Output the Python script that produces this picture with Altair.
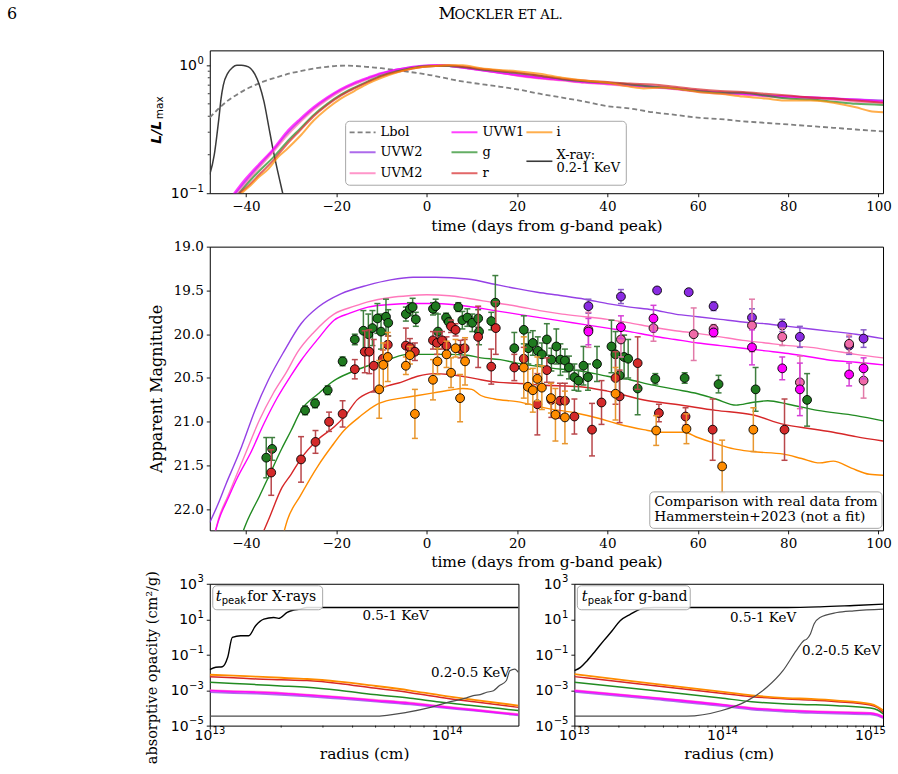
import altair as alt
import pandas as pd

SERIF = "DejaVu Serif"
SANS = "DejaVu Sans"

# ------------------------------------------------------------------
# Top panel: light curves normalised to their own maximum
# ------------------------------------------------------------------
lbol_day = [-48, -46, -44, -42, -40, -38, -36, -34, -32, -30, -28, -26, -24, -22, -20,
            -18, -16, -14, -12, -10, -8, -6, -4, -2, 0, 3, 6, 10, 15, 20, 25, 30, 35,
            40, 45, 50, 55, 60, 65, 70, 75, 80, 85, 90, 95, 101]
lbol_lum = [0.39, 0.46, 0.53, 0.59, 0.65, 0.70, 0.75, 0.79, 0.83, 0.87, 0.90, 0.93, 0.955,
            0.975, 0.99, 0.995, 0.99, 0.98, 0.965, 0.95, 0.93, 0.91, 0.89, 0.87, 0.85, 0.81,
            0.77, 0.73, 0.69, 0.65, 0.60, 0.56, 0.52, 0.48, 0.46, 0.43, 0.41, 0.39, 0.38,
            0.365, 0.355, 0.345, 0.335, 0.325, 0.315, 0.305]

xray_day = [-48, -47, -46.5, -46, -45.5, -45, -44, -43, -42, -41, -40, -39, -38, -37,
            -36, -35, -34, -33, -32, -31]
xray_lum = [0.14, 0.2, 0.27, 0.38, 0.55, 0.7, 0.87, 0.96, 1.0, 1.0, 0.99, 0.95, 0.85, 0.7,
            0.52, 0.34, 0.22, 0.15, 0.105, 0.075]

top_uv_day = [-43.5, -40, -37, -34, -31, -28, -25, -22, -19, -16, -13, -10, -7, -4, -1, 2,
              5, 8, 12, 16, 20, 25, 30, 35, 40, 45, 50, 55, 60, 65, 70, 75, 80, 85, 90, 95, 101]
top_uvw1 = [0.09, 0.13, 0.17, 0.22, 0.30, 0.38, 0.47, 0.56, 0.65, 0.73, 0.80, 0.87, 0.92,
            0.96, 0.99, 1.0, 0.99, 0.96, 0.92, 0.88, 0.84, 0.80, 0.77, 0.74, 0.72, 0.70,
            0.68, 0.66, 0.63, 0.61, 0.60, 0.58, 0.57, 0.56, 0.55, 0.54, 0.52]
top_uvw2 = [0.088, 0.125, 0.165, 0.215, 0.29, 0.37, 0.46, 0.55, 0.64, 0.72, 0.79, 0.86, 0.92,
            0.96, 0.99, 1.0, 0.99, 0.96, 0.92, 0.88, 0.84, 0.80, 0.77, 0.74, 0.72, 0.70,
            0.68, 0.66, 0.63, 0.61, 0.60, 0.58, 0.57, 0.56, 0.55, 0.54, 0.53]
top_uvm2 = [0.085, 0.12, 0.16, 0.21, 0.28, 0.36, 0.45, 0.54, 0.63, 0.71, 0.78, 0.85, 0.91,
            0.95, 0.98, 1.0, 0.99, 0.96, 0.92, 0.88, 0.83, 0.79, 0.76, 0.73, 0.71, 0.69,
            0.67, 0.65, 0.62, 0.60, 0.59, 0.57, 0.56, 0.55, 0.54, 0.52, 0.51]

top_g_day = [-42, -40, -37, -34, -31, -28, -25, -22, -19, -16, -13, -10, -7, -4, -1, 2,
             5, 8, 12, 16, 20, 25, 30, 35, 40, 45, 50, 55, 60, 65, 70, 75, 80, 85, 90, 95, 101]
top_g = [0.095, 0.115, 0.15, 0.19, 0.25, 0.32, 0.41, 0.50, 0.59, 0.67, 0.75, 0.83, 0.89,
         0.94, 0.98, 0.99, 0.99, 0.97, 0.93, 0.90, 0.87, 0.83, 0.78, 0.75, 0.73, 0.71,
         0.68, 0.66, 0.63, 0.61, 0.61, 0.58, 0.55, 0.54, 0.52, 0.50, 0.49]

top_r_day = [-41.5, -40, -37, -34, -31, -28, -25, -22, -19, -16, -13, -10, -7, -4, -1, 2,
             5, 8, 12, 16, 20, 25, 30, 35, 40, 45, 50, 55, 60, 65, 70, 75, 80, 85, 90, 95, 101]
top_r = [0.1, 0.11, 0.14, 0.18, 0.24, 0.31, 0.40, 0.49, 0.58, 0.66, 0.74, 0.82, 0.88, 0.93,
         0.97, 0.99, 1.0, 0.98, 0.94, 0.91, 0.88, 0.83, 0.79, 0.76, 0.74, 0.72, 0.71, 0.68,
         0.65, 0.63, 0.62, 0.60, 0.58, 0.56, 0.55, 0.53, 0.51]

top_i_day = [-41, -39, -37, -35, -33, -31, -28, -25, -22, -19, -16, -13, -10, -7, -4, -1,
             2, 5, 8, 12, 16, 20, 25, 30, 35, 40, 45, 48, 52, 56, 60, 65, 70, 75, 80, 85,
             90, 95, 98, 101]
top_i = [0.1, 0.115, 0.135, 0.155, 0.19, 0.22, 0.28, 0.37, 0.46, 0.55, 0.63, 0.72, 0.80,
         0.87, 0.93, 0.97, 0.99, 1.0, 1.0, 0.95, 0.92, 0.90, 0.86, 0.80, 0.76, 0.73, 0.68,
         0.66, 0.67, 0.65, 0.62, 0.60, 0.57, 0.55, 0.53, 0.53, 0.51, 0.47, 0.44, 0.43]

top_major = [0.1, 1.0]
top_major_exp = ["−1", "0"]
top_minor = [0.2, 0.3, 0.4, 0.5, 0.6, 0.7, 0.8, 0.9]

# ------------------------------------------------------------------
# Middle panel: model magnitudes and observed photometry
# ------------------------------------------------------------------
mod_uvw2_day = [-48, -46, -44.4, -42.5, -41, -38, -35, -31.5, -27.8, -24, -19, -13, -8, -3,
                2, 9, 16, 20, 24.5, 30, 35, 40, 45, 50, 55, 60, 65, 70, 75, 80, 85, 90, 95, 101]
mod_uvw2 = [22.15, 21.92, 21.71, 21.48, 21.29, 20.87, 20.52, 20.19, 19.88, 19.69, 19.54,
            19.44, 19.38, 19.35, 19.35, 19.37, 19.44, 19.48, 19.52, 19.56, 19.6, 19.65,
            19.69, 19.72, 19.77, 19.8, 19.83, 19.86, 19.88, 19.91, 19.94, 19.97, 20.0, 20.05]

mod_uvm2_day = [-47, -46, -44, -42, -40, -37, -34, -31, -28.5, -25, -20.5, -16, -13, -8, -4,
                0, 5, 9, 15, 20, 25, 30, 35, 40, 45, 50, 55, 60, 65, 70, 75, 80, 85, 90, 95, 101]
mod_uvm2 = [22.3, 22.1, 21.85, 21.6, 21.35, 20.98, 20.68, 20.43, 20.2, 19.98, 19.77, 19.68,
            19.63, 19.58, 19.56, 19.55, 19.56, 19.59, 19.64, 19.68, 19.73, 19.77, 19.8,
            19.83, 19.87, 19.92, 19.96, 19.99, 20.03, 20.07, 20.1, 20.13, 20.15, 20.19,
            20.23, 20.27]

mod_uvw1_day = [-47, -46, -44, -42, -39, -36, -33, -30, -27.8, -24, -20.5, -17, -13, -8, -3,
                2, 9, 15, 20, 25, 30, 35, 40, 45, 50, 55, 60, 65, 70, 75, 80, 85, 90, 95, 101]
mod_uvw1 = [22.3, 22.12, 21.88, 21.65, 21.36, 21.02, 20.72, 20.47, 20.3, 20.05, 19.84, 19.76,
            19.69, 19.66, 19.65, 19.65, 19.68, 19.73, 19.77, 19.81, 19.85, 19.89, 19.93,
            19.97, 20.02, 20.06, 20.1, 20.13, 20.16, 20.19, 20.22, 20.26, 20.3, 20.32, 20.35]

mod_g_day = [-41, -39.6, -37, -35, -32, -30, -27.8, -24, -20.5, -17, -13, -8, -4.3, 0, 5, 9,
             12, 16.3, 20, 25, 30, 34, 40, 45, 49, 55, 60, 64, 68.5, 72, 75.5, 80, 86.5, 95, 101]
mod_g = [22.3, 22.12, 21.85, 21.63, 21.3, 21.1, 20.87, 20.68, 20.53, 20.44, 20.36, 20.28,
         20.23, 20.23, 20.23, 20.24, 20.27, 20.29, 20.33, 20.37, 20.4, 20.42, 20.48, 20.52,
         20.57, 20.63, 20.68, 20.74, 20.81, 20.78, 20.76, 20.8, 20.87, 20.93, 20.99]

mod_r_day = [-36.5, -35, -32, -30, -27.8, -24, -20.5, -18, -15.4, -12, -8, -5.7, -2, 1.5, 5,
             9, 12, 16, 20, 25, 34, 40, 49, 55, 64, 72, 79, 85, 90, 95, 101]
mod_r = [22.3, 22.12, 21.75, 21.6, 21.42, 21.2, 21.06, 20.93, 20.75, 20.65, 20.58, 20.55,
         20.48, 20.45, 20.46, 20.49, 20.52, 20.55, 20.56, 20.58, 20.6, 20.65, 20.76, 20.8,
         20.87, 20.92, 21.03, 21.08, 21.12, 21.17, 21.22]

mod_i_day = [-31.8, -30.8, -28, -24, -21, -18.3, -15, -11, -8, -5.7, -2, 1.5, 5, 8, 10, 12,
             15, 20, 27, 33, 38, 42, 48, 52, 57, 60, 64, 68, 72, 79, 83, 87, 90, 94, 98, 101]
mod_i = [22.3, 22.12, 21.85, 21.5, 21.28, 21.1, 20.95, 20.8, 20.75, 20.73, 20.7, 20.67,
         20.64, 20.62, 20.63, 20.7, 20.74, 20.77, 20.85, 20.9, 20.96, 21.02, 21.09, 21.12,
         21.12, 21.18, 21.25, 21.31, 21.34, 21.37, 21.42, 21.47, 21.45, 21.53, 21.6, 21.61]

obs_g_day = [-35.5, -34.2, -26.9, -24.7, -21.9, -18.6, -15.9, -14.0, -12.9, -12.0, -10.9,
             -10.1, -9.0, -8.5, -4.6, -3.7, -3.1, -2.4, 1.4, 2.0, 2.5, 4.3, 4.9, 7.0, 7.9,
             9.0, 10.1, 11.4, 11.6, 14.3, 15.2, 19.4, 21.5, 22.5, 23.5, 24.6, 25.5, 26.6,
             27.6, 28.7, 29.6, 30.6, 31.5, 32.7, 33.6, 34.7, 35.7, 37.7, 40.9, 41.8, 42.7,
             43.7, 44.6, 46.7, 50.6, 57.1, 64.6, 72.8, 84.2]
obs_g_mag = [21.41, 21.31, 20.87, 20.79, 20.64, 20.31, 20.06, 19.96, 20.0, 19.93, 19.82,
             19.97, 19.8, 19.87, 19.77, 19.71, 19.69, 19.83, 19.71, 19.68, 19.97, 19.81,
             19.86, 19.69, 19.84, 19.81, 19.87, 19.82, 19.97, 19.85, 19.64, 20.16, 19.95,
             20.16, 20.1, 20.19, 20.23, 20.06, 20.29, 20.14, 20.29, 20.3, 20.38, 20.49,
             20.53, 20.36, 20.49, 20.34, 20.14, 20.23, 20.47, 20.26, 20.28, 20.62, 20.51,
             20.5, 20.57, 20.63, 20.75]
obs_g_err = [0.23, 0.13, 0.05, 0.05, 0.05, 0.05, 0.06, 0.23, 0.23, 0.2, 0.17, 0.2, 0.2,
             0.15, 0.08, 0.07, 0.1, 0.08, 0.07, 0.08, 0.2, 0.05, 0.05, 0.05, 0.1, 0.1, 0.1,
             0.1, 0.15, 0.1, 0.31, 0.18, 0.16, 0.18, 0.14, 0.16, 0.13, 0.18, 0.13, 0.2,
             0.18, 0.13, 0.13, 0.15, 0.12, 0.22, 0.15, 0.2, 0.3, 0.26, 0.25, 0.25, 0.22,
             0.3, 0.06, 0.06, 0.1, 0.25, 0.3]

obs_r_day = [-34.4, -27.8, -24.6, -21.6, -18.6, -15.9, -13.7, -12.7, -11.7, -9.7, -8.6,
             -4.6, -3.7, -2.6, 1.4, 2.3, 3.4, 4.4, 5.4, 6.4, 7.5, 8.4, 11.4, 14.3, 15.3,
             19.4, 21.5, 24.5, 26.6, 27.6, 29.5, 30.6, 32.7, 36.6, 38.7, 41.8, 42.7, 46.7,
             51.4, 57.3, 63.3, 79.2]
obs_r_mag = [21.58, 21.43, 21.23, 21.0, 20.91, 20.4, 20.2, 20.2, 20.36, 20.28, 20.12, 20.13,
             20.15, 20.2, 20.07, 20.1, 20.07, 20.13, 19.91, 19.95, 20.17, 20.16, 20.03,
             20.37, 19.93, 20.38, 20.28, 20.8, 20.41, 20.75, 20.76, 20.76, 20.94, 21.09,
             20.78, 20.5, 20.71, 20.33, 20.9, 20.94, 21.09, 21.09]
obs_r_err = [0.26, 0.26, 0.13, 0.11, 0.15, 0.11, 0.24, 0.25, 0.3, 0.1, 0.1, 0.2, 0.1, 0.1,
             0.1, 0.13, 0.1, 0.1, 0.07, 0.07, 0.1, 0.1, 0.35, 0.2, 0.3, 0.15, 0.13, 0.35,
             0.14, 0.2, 0.2, 0.2, 0.2, 0.3, 0.25, 0.3, 0.3, 0.3, 0.1, 0.1, 0.35, 0.35]

obs_i_day = [-10.5, -9.6, -8.6, -4.6, -3.7, -2.6, 1.4, 2.4, 4.4, 5.4, 6.4, 7.4, 8.5, 21.5,
             22.4, 23.5, 24.5, 25.5, 27.5, 28.5, 30.6, 41.8, 50.8, 57.5, 65.4, 72.3]
obs_i_mag = [20.63, 20.35, 20.26, 20.36, 20.24, 20.91, 20.52, 20.31, 20.23, 20.44, 20.16,
             20.73, 20.31, 20.38, 20.6, 20.64, 20.51, 20.61, 20.73, 20.92, 20.95, 20.68,
             21.1, 21.08, 21.51, 21.09]
obs_i_err = [0.33, 0.25, 0.28, 0.1, 0.1, 0.28, 0.23, 0.15, 0.15, 0.17, 0.1, 0.27, 0.27,
             0.35, 0.2, 0.25, 0.25, 0.25, 0.17, 0.3, 0.3, 0.3, 0.17, 0.17, 0.3, 0.25]

obs_uvw2_day = [35.8, 43.0, 51.0, 58.0, 63.5, 72.0, 78.7, 82.6, 93.5, 96.7]
obs_uvw2_mag = [19.68, 19.57, 19.5, 19.52, 19.68, 19.81, 19.9, 20.03, 20.13, 20.05]
obs_uvw2_err = [0.08, 0.08, 0.03, 0.02, 0.05, 0.1, 0.07, 0.12, 0.1, 0.1]

obs_uvm2_day = [35.8, 43.0, 50.2, 59.1, 63.5, 72.0, 78.7, 82.6, 93.5, 96.7]
obs_uvm2_mag = [19.95, 20.06, 19.93, 20.0, 19.94, 19.9, 20.03, 20.55, 20.11, 20.53]
obs_uvm2_err = [0.2, 0.2, 0.15, 0.3, 0.05, 0.3, 0.1, 0.3, 0.1, 0.2]

obs_uvw1_day = [35.8, 43.0, 50.2, 63.5, 72.0, 78.7, 82.6, 93.5, 96.7]
obs_uvw1_mag = [19.97, 19.92, 19.82, 19.98, 20.15, 20.39, 20.63, 20.46, 20.39]
obs_uvw1_err = [0.15, 0.13, 0.15, 0.05, 0.2, 0.13, 0.3, 0.13, 0.12]

# ------------------------------------------------------------------
# Bottom panels: absorptive opacity against radius
# ------------------------------------------------------------------
xr_radius = [1.0e13, 1.26e13, 1.58e13, 2.0e13, 2.57e13, 3.5e13, 4.9e13, 7.0e13, 9.3e13,
             1.3e14, 2.0e14]
xr_kap_i = [7.41e-3, 6.61e-3, 5.75e-3, 5.01e-3, 4.27e-3, 3.02e-3, 1.78e-3, 9.55e-4, 5.25e-4,
            2.82e-4, 1.35e-4]
xr_kap_r = [5.75e-3, 5.01e-3, 4.27e-3, 3.89e-3, 3.47e-3, 2.40e-3, 1.32e-3, 7.24e-4, 3.98e-4,
            2.19e-4, 1.07e-4]
xr_kap_g = [2.75e-3, 2.40e-3, 2.04e-3, 1.74e-3, 1.45e-3, 9.77e-4, 5.62e-4, 3.47e-4, 2.14e-4,
            1.32e-4, 7.08e-5]
xr_kap_uvw1 = [9.33e-4, 8.32e-4, 7.59e-4, 6.61e-4, 5.25e-4, 3.89e-4, 2.69e-4, 1.82e-4,
               1.20e-4, 7.59e-5, 4.17e-5]
xr_kap_uvm2 = [1.0e-3, 8.91e-4, 8.13e-4, 7.08e-4, 5.62e-4, 4.17e-4, 2.88e-4, 1.95e-4,
               1.29e-4, 8.13e-5, 4.47e-5]
xr_kap_uvw2 = [7.76e-4, 6.92e-4, 6.31e-4, 5.50e-4, 4.47e-4, 3.31e-4, 2.34e-4, 1.58e-4,
               1.07e-4, 6.92e-5, 3.80e-5]
xr_hard_radius = [1.0e13, 1.06e13, 1.13e13, 1.19e13, 1.245e13, 1.35e13, 1.46e13, 1.56e13,
                  1.69e13, 1.86e13, 1.95e13, 2.12e13, 2.26e13, 2.4e13, 2.57e13, 2.0e14]
xr_hard_kap = [1.43e-2, 1.95e-2, 2.1e-2, 7.1e-2, 0.95, 1.17, 1.17, 4.3, 10.2, 12.6, 11.2,
               24, 33, 37, 46, 46]
xr_soft_radius = [1.0e13, 4.9e13, 6.76e13, 8.51e13, 9.98e13, 1.21e14, 1.29e14, 1.38e14,
                  1.47e14, 1.57e14, 1.66e14, 1.78e14, 1.84e14, 1.93e14, 2.0e14]
xr_soft_kap = [3.4e-5, 3.4e-5, 5.6e-5, 1.07e-4, 2.0e-4, 3.7e-4, 4.9e-4, 5.6e-4, 7.6e-4,
               9.3e-4, 1.78e-3, 3.5e-3, 1.26e-2, 1.55e-2, 1.0e-2]

gb_radius = [1.0e13, 3.16e13, 9.77e13, 1.58e14, 2.75e14, 3.98e14, 5.96e14, 1.0e15, 1.12e15,
             1.23e15]
gb_kap_i = [8.1e-3, 2.5e-3, 8.2e-4, 5.1e-4, 3.6e-4, 3.2e-4, 2.6e-4, 1.66e-4, 1.17e-4, 7.0e-5]
gb_kap_r = [5.8e-3, 1.95e-3, 6.6e-4, 4.3e-4, 3.2e-4, 2.8e-4, 2.25e-4, 1.46e-4, 1.03e-4, 5.6e-5]
gb_kap_g = [2.76e-3, 1.02e-3, 3.6e-4, 2.25e-4, 1.66e-4, 1.52e-4, 1.34e-4, 9.9e-5, 7.6e-5,
            4.5e-5]
gb_kap_uvw1 = [9.4e-4, 3.9e-4, 1.52e-4, 9.5e-5, 7.0e-5, 6.1e-5, 5.6e-5, 5.0e-5, 4.2e-5, 3.0e-5]
gb_kap_uvm2 = [1.0e-3, 4.1e-4, 1.6e-4, 1.0e-4, 7.4e-5, 6.5e-5, 5.9e-5, 5.3e-5, 4.5e-5, 3.2e-5]
gb_kap_uvw2 = [8.0e-4, 3.3e-4, 1.3e-4, 8.1e-5, 6.0e-5, 5.2e-5, 4.8e-5, 4.3e-5, 3.6e-5, 2.6e-5]
gb_hard_radius = [1.0e13, 1.1e13, 1.22e13, 1.39e13, 1.58e13, 1.8e13, 2.04e13, 2.4e13,
                  2.79e13, 2.95e13, 3.47e13, 2.75e14, 4.57e14, 7.76e14, 1.23e15]
gb_hard_kap = [1.26e-2, 1.94e-2, 4.6e-2, 0.168, 0.62, 2.25, 8.3, 19.5, 37.4, 42.7, 45.7,
               45.7, 50, 60, 71]
gb_soft_radius = [1.0e13, 5.75e13, 9.8e13, 1.48e14, 2.0e14, 2.57e14, 3.16e14, 3.55e14,
                  3.72e14, 3.94e14, 4.17e14, 4.57e14, 5.96e14, 7.76e14, 1.23e15]
gb_soft_kap = [3.4e-5, 3.4e-5, 6.9e-5, 2.57e-4, 1.45e-3, 1.26e-2, 0.17, 0.62, 0.76, 1.48,
               5.4, 12.6, 24, 30, 37]

kap_major = [1e-5, 1e-3, 1e-1, 10, 1000]
kap_major_exp = ["−5", "−3", "−1", "1", "3"]
radius_major_left = [1e13, 1e14]
radius_major_right = [1e13, 1e14, 1e15]
radius_major_exp = {1e13: "13", 1e14: "14", 1e15: "15"}
minor_radius_left = [2e13, 3e13, 4e13, 5e13, 6e13, 7e13, 8e13, 9e13]
minor_radius_right = [2e13, 3e13, 4e13, 5e13, 6e13, 7e13, 8e13, 9e13,
                      2e14, 3e14, 4e14, 5e14, 6e14, 7e14, 8e14, 9e14]

# band colours
LINE = {"UVW2": "#8a2be2", "UVM2": "#ff69b4", "UVW1": "#ff00ff",
        "g": "#228b22", "r": "#d62728", "i": "#ff8c00"}
FACE = {"UVW2": "#8a2be2", "UVM2": "#f06aa8", "UVW1": "#ff00ff",
        "g": "#1f7a1f", "r": "#d42a2a", "i": "#ff8c00"}
EBAR = {"UVW2": "#8a5cc8", "UVM2": "#e27aa8", "UVW1": "#d63fd6",
        "g": "#3f7f3f", "r": "#b9474b", "i": "#e8962e"}

ONE = pd.DataFrame({"k": [0]})

# label metrics (DejaVu Sans): "10" at 14 px, exponent digits/minus at 10 px
BASE_PX, EXP_PX = 14, 10
DIGIT_W, MINUS_W = 0.636 * EXP_PX, 0.838 * EXP_PX
BASE_W = 2 * 0.636 * BASE_PX


def exp_width(e):
    return sum(MINUS_W if ch == "−" else DIGIT_W for ch in e)


def line(xv, yv, xs, ys, xaxis, yaxis, color, width, opacity=1.0, dash=None,
         interp="monotone"):
    mk = dict(color=color, strokeWidth=width, opacity=opacity, clip=True, interpolate=interp)
    if dash is not None:
        mk["strokeDash"] = dash
    return alt.Chart(pd.DataFrame({"x": xv, "y": yv})).mark_line(**mk).encode(
        x=alt.X("x:Q", scale=xs, axis=xaxis),
        y=alt.Y("y:Q", scale=ys, axis=yaxis),
    )


def text(s, x, y, size=13, font=SERIF, align="left", baseline="middle", angle=None,
         style="normal", weight="normal"):
    mk = dict(text=s, fontSize=size, font=font, align=align, baseline=baseline,
              fontStyle=style, fontWeight=weight, color="black")
    if angle is not None:
        mk["angle"] = angle
    return alt.Chart(ONE).mark_text(**mk).encode(x=alt.value(x), y=alt.value(y))


def seg(x1, x2, y, color, width, opacity=1.0, dash=None):
    mk = dict(color=color, strokeWidth=width, opacity=opacity)
    if dash is not None:
        mk["strokeDash"] = dash
    return alt.Chart(ONE).mark_rule(**mk).encode(
        x=alt.value(x1), x2=alt.value(x2), y=alt.value(y))


def box(x1, x2, y1, y2):
    return alt.Chart(ONE).mark_rect(
        fill="white", fillOpacity=0.85, stroke="#a8a8a8", strokeWidth=1, cornerRadius=4
    ).encode(x=alt.value(x1), x2=alt.value(x2), y=alt.value(y1), y2=alt.value(y2))


def yminor(vals, ys, yaxis):
    return alt.Chart(pd.DataFrame({"v": vals})).mark_rule(color="black", strokeWidth=0.8).encode(
        y=alt.Y("v:Q", scale=ys, axis=yaxis), x=alt.value(0), x2=alt.value(-2))


def xminor(vals, xs, xaxis, h):
    return alt.Chart(pd.DataFrame({"v": vals})).mark_rule(color="black", strokeWidth=0.8).encode(
        x=alt.X("v:Q", scale=xs, axis=xaxis), y=alt.value(h), y2=alt.value(h + 2))


def ylog_labels(vals, exps, ys, yaxis):
    """Power-of-ten labels on a left axis: '10' followed by a raised exponent."""
    out = []
    for v, e in zip(vals, exps):
        d = pd.DataFrame({"v": [v], "e": [e]})
        Y = alt.Y("v:Q", scale=ys, axis=yaxis)
        out.append(alt.Chart(d).mark_text(
            text="10", font=SANS, fontSize=BASE_PX, align="right", baseline="middle",
            dx=-(6.5 + exp_width(e)), dy=1, color="black").encode(x=alt.value(0), y=Y))
        out.append(alt.Chart(d).mark_text(
            font=SANS, fontSize=EXP_PX, align="right", baseline="middle", dx=-6, dy=-4.5,
            color="black").encode(x=alt.value(0), y=Y, text="e:N"))
    return out


def xlog_labels(vals, exps, xs, xaxis, h):
    """Power-of-ten labels centred under bottom-axis ticks."""
    out = []
    for v, e in zip(vals, exps):
        d = pd.DataFrame({"v": [v], "e": [e]})
        X = alt.X("v:Q", scale=xs, axis=xaxis)
        shift = (BASE_W + exp_width(e)) / 2 - exp_width(e)
        out.append(alt.Chart(d).mark_text(
            text="10", font=SANS, fontSize=BASE_PX, align="right", baseline="top",
            dx=shift, color="black").encode(x=X, y=alt.value(h + 3)))
        out.append(alt.Chart(d).mark_text(
            font=SANS, fontSize=EXP_PX, align="left", baseline="top", dx=shift + 0.3,
            color="black").encode(x=X, y=alt.value(h), text="e:N"))
    return out


def photometry(day, mag, err, band, xs, ys, xaxis, yaxis):
    d = pd.DataFrame({"day": day, "mag": mag,
                      "lo": [m - e for m, e in zip(mag, err)],
                      "hi": [m + e for m, e in zip(mag, err)]})
    base = alt.Chart(d)
    X = alt.X("day:Q", scale=xs, axis=xaxis)
    bar = base.mark_rule(color=EBAR[band], strokeWidth=1.5).encode(
        x=X, y=alt.Y("lo:Q", scale=ys, axis=yaxis), y2=alt.Y2("hi"))
    caps = [base.mark_rule(color=EBAR[band], strokeWidth=1.5, xOffset=-3, x2Offset=3).encode(
        x=X, x2=alt.X2("day"), y=alt.Y(f"{f}:Q", scale=ys, axis=yaxis)) for f in ("lo", "hi")]
    dots = base.mark_point(shape="circle", filled=True, fill=FACE[band], stroke="black",
                           strokeWidth=0.9, size=78, opacity=1).encode(
        x=X, y=alt.Y("mag:Q", scale=ys, axis=yaxis))
    return [bar] + caps + [dots]


# ------------------------------------------------------------------
# top panel
# ------------------------------------------------------------------
t_xs = alt.Scale(domain=[-48, 101], nice=False, zero=False)
t_ys = alt.Scale(type="log", domain=[0.1, 1.31], nice=False)
day_ticks = [-40, -20, 0, 20, 40, 60, 80, 100]
t_xa = alt.Axis(values=day_ticks, format="d", title="time (days from g-band peak)",
                titlePadding=5)
t_ya = alt.Axis(values=top_major, labels=False, title=None)

top_layers = [
    line(lbol_day, lbol_lum, t_xs, t_ys, t_xa, t_ya, "#808080", 1.8, dash=[5, 3]),
    line(xray_day, xray_lum, t_xs, t_ys, t_xa, t_ya, "#3a3a3a", 1.5),
    line(top_uv_day, top_uvw2, t_xs, t_ys, t_xa, t_ya, LINE["UVW2"], 2.0, opacity=0.7),
    line(top_uv_day, top_uvm2, t_xs, t_ys, t_xa, t_ya, LINE["UVM2"], 2.0, opacity=0.7),
    line(top_uv_day, top_uvw1, t_xs, t_ys, t_xa, t_ya, LINE["UVW1"], 2.4, opacity=0.75),
    line(top_g_day, top_g, t_xs, t_ys, t_xa, t_ya, LINE["g"], 2.0, opacity=0.7),
    line(top_r_day, top_r, t_xs, t_ys, t_xa, t_ya, LINE["r"], 2.0, opacity=0.7),
    line(top_i_day, top_i, t_xs, t_ys, t_xa, t_ya, LINE["i"], 2.0, opacity=0.7),
    yminor(top_minor, t_ys, t_ya),
]
top_layers += ylog_labels(top_major, top_major_exp, t_ys, t_ya)
top_layers += [
    # legend
    box(136, 417, 71, 135),
    seg(140, 166, 82, "#808080", 1.8, dash=[5, 3]),
    text("Lbol", 171, 82),
    seg(140, 166, 102, LINE["UVW2"], 2, opacity=0.7),
    text("UVW2", 171, 102),
    seg(140, 166, 123, LINE["UVM2"], 2, opacity=0.7),
    text("UVM2", 171, 123),
    seg(242, 268, 82, LINE["UVW1"], 2, opacity=0.75),
    text("UVW1", 273, 82),
    seg(242, 268, 102, LINE["g"], 2, opacity=0.7),
    text("g", 273, 102),
    seg(242, 268, 123, LINE["r"], 2, opacity=0.7),
    text("r", 273, 123),
    seg(317, 343, 82, LINE["i"], 2, opacity=0.7),
    text("i", 347, 82),
    seg(317, 343, 111, "#3a3a3a", 1.6),
    text("X-ray:", 347, 104.5),
    text("0.2-1 KeV", 347, 118),
    # y label
    text("L/L", -53, 82, size=14, font=SANS, align="center", angle=270, style="italic",
         weight="bold"),
    text("max", -49.5, 57.5, size=10.5, font=SANS, align="center", angle=270),
    # running page header
    text("6", -203, -31, size=16, baseline="alphabetic"),
    text("M", 229, -31, size=17, baseline="alphabetic"),
    text("OCKLER ET AL.", 245, -31, size=13.2, baseline="alphabetic"),
]
top = alt.layer(*top_layers).properties(width=674, height=143)

# ------------------------------------------------------------------
# middle panel
# ------------------------------------------------------------------
m_xs = alt.Scale(domain=[-48, 101], nice=False, zero=False)
m_ys = alt.Scale(domain=[19.0, 22.24], nice=False, zero=False, reverse=True)
m_xa = alt.Axis(values=day_ticks, format="d", title="time (days from g-band peak)",
                titlePadding=4)
m_ya = alt.Axis(values=[19.0, 19.5, 20.0, 20.5, 21.0, 21.5, 22.0], format=".1f",
                title="Apparent Magnitude", titleFontSize=16, titlePadding=9)

mid_layers = [
    line(mod_uvw2_day, mod_uvw2, m_xs, m_ys, m_xa, m_ya, LINE["UVW2"], 1.4, opacity=0.9),
    line(mod_uvm2_day, mod_uvm2, m_xs, m_ys, m_xa, m_ya, LINE["UVM2"], 1.4, opacity=0.9),
    line(mod_uvw1_day, mod_uvw1, m_xs, m_ys, m_xa, m_ya, LINE["UVW1"], 1.4),
    line(mod_g_day, mod_g, m_xs, m_ys, m_xa, m_ya, LINE["g"], 1.4),
    line(mod_r_day, mod_r, m_xs, m_ys, m_xa, m_ya, LINE["r"], 1.4),
    line(mod_i_day, mod_i, m_xs, m_ys, m_xa, m_ya, LINE["i"], 1.4),
]
for band, dd, mm, ee in (("g", obs_g_day, obs_g_mag, obs_g_err),
                         ("r", obs_r_day, obs_r_mag, obs_r_err),
                         ("i", obs_i_day, obs_i_mag, obs_i_err),
                         ("UVW2", obs_uvw2_day, obs_uvw2_mag, obs_uvw2_err),
                         ("UVM2", obs_uvm2_day, obs_uvm2_mag, obs_uvm2_err),
                         ("UVW1", obs_uvw1_day, obs_uvw1_mag, obs_uvw1_err)):
    mid_layers += photometry(dd, mm, ee, band, m_xs, m_ys, m_xa, m_ya)
mid_layers += [
    box(440.5, 673, 245.5, 282),
    text("Comparison with real data from", 445, 256, size=13.8),
    text("Hammerstein+2023 (not a fit)", 445, 271, size=13.8),
]
middle = alt.layer(*mid_layers).properties(width=674, height=284)

# ------------------------------------------------------------------
# bottom panels
# ------------------------------------------------------------------
k_ys = alt.Scale(type="log", domain=[1e-5, 1e3], nice=False)
k_ya = alt.Axis(values=kap_major, labels=False, title=None)


def opacity_panel(xs, xa, radius, kaps, hard_r, hard_k, soft_r, soft_k, major, minor,
                  labels):
    layers = []
    for band, w, op in (("UVW2", 1.8, 0.7), ("UVM2", 1.8, 0.7), ("UVW1", 1.8, 0.9),
                        ("g", 1.5, 1.0), ("r", 1.5, 1.0), ("i", 1.8, 1.0)):
        layers.append(line(radius, kaps[band], xs, k_ys, xa, k_ya, LINE[band], w, opacity=op))
    layers.append(line(hard_r, hard_k, xs, k_ys, xa, k_ya, "black", 1.4))
    layers.append(line(soft_r, soft_k, xs, k_ys, xa, k_ya, "#4d4d4d", 1.2))
    layers.append(xminor(minor, xs, xa, 142))
    layers += ylog_labels(kap_major, kap_major_exp, k_ys, k_ya)
    layers += xlog_labels(major, [radius_major_exp[m] for m in major], xs, xa, 142)
    layers += labels
    return alt.layer(*layers).properties(width=309, height=142)


bl_xs = alt.Scale(type="log", domain=[1e13, 2e14], nice=False)
bl_xa = alt.Axis(values=radius_major_left, labels=False, title="radius (cm)", titlePadding=17)
br_xs = alt.Scale(type="log", domain=[1e13, 1.22e15], nice=False)
br_xa = alt.Axis(values=radius_major_right, labels=False, title="radius (cm)", titlePadding=17)

left = opacity_panel(
    bl_xs, bl_xa, xr_radius,
    {"UVW2": xr_kap_uvw2, "UVM2": xr_kap_uvm2, "UVW1": xr_kap_uvw1,
     "g": xr_kap_g, "r": xr_kap_r, "i": xr_kap_i},
    xr_hard_radius, xr_hard_kap, xr_soft_radius, xr_soft_kap,
    radius_major_left, minor_radius_left,
    [
        box(3, 113, 2, 26),
        text("t", 6, 13, size=14.5, style="italic"),
        text("peak", 12, 17, size=10, font=SANS),
        text("for X-rays", 37.5, 13, size=14),
        text("0.5-1 KeV", 186, 32, size=13.5, align="center"),
        text("0.2-0.5 KeV", 261, 89, size=13.5, align="center"),
        text("absorptive opacity (cm²/g)", -57, 84, size=14.5, align="center", angle=270),
    ],
)
right = opacity_panel(
    br_xs, br_xa, gb_radius,
    {"UVW2": gb_kap_uvw2, "UVM2": gb_kap_uvm2, "UVW1": gb_kap_uvw1,
     "g": gb_kap_g, "r": gb_kap_r, "i": gb_kap_i},
    gb_hard_radius, gb_hard_kap, gb_soft_radius, gb_soft_kap,
    radius_major_right, minor_radius_right,
    [
        box(3, 116, 2, 26),
        text("t", 7.5, 13, size=14.5, style="italic"),
        text("peak", 13.5, 17, size=10, font=SANS),
        text("for g-band", 39.5, 13, size=14),
        text("0.5-1 KeV", 189, 34, size=13.5, align="center"),
        text("0.2-0.5 KeV", 307, 67, size=13.5, align="right"),
    ],
)

bottom = alt.hconcat(left, right, spacing=56, bounds="flush")

chart = (
    alt.vconcat(top, middle, bottom, spacing=53.5, bounds="flush")
    .properties(padding={"left": 6, "top": 4, "right": 6, "bottom": 6}, background="white")
    .configure_view(stroke="black", strokeWidth=1)
    .configure_axis(
        grid=False, domain=False, labelFlush=False, tickColor="black", tickWidth=0.9,
        tickSize=3.5, labelColor="black", titleColor="black", labelFont=SERIF,
        titleFont=SERIF, labelFontSize=13.5, titleFontSize=15.5, titleFontWeight="normal",
        labelPadding=3,
    )
)

chart.save("out.html", embed_options={"renderer": "svg", "actions": False})
